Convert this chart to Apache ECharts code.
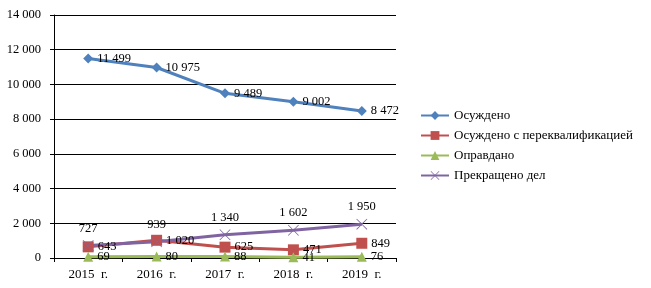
<!DOCTYPE html>
<html><head><meta charset="utf-8">
<script src="https://cdn.jsdelivr.net/npm/echarts@6/dist/echarts.min.js"></script>
<style>html,body{margin:0;padding:0;background:#fff}#c{width:651px;height:288px}</style>
</head><body><div id="c"></div>
<script>
var categories = ['2015  г.', '2016  г.', '2017  г.', '2018  г.', '2019  г.'];
var osuzhdeno = [11499, 10975, 9489, 9002, 8472];
var perekvalif = [643, 1020, 625, 471, 849];
var opravdano = [69, 80, 88, 41, 76];
var prekrascheno = [727, 939, 1340, 1602, 1950];
var seriesNames = ['Осуждено', 'Осуждено с переквалификацией', 'Оправдано', 'Прекращено дел'];

function fmt(v){ return String(v).replace(/\B(?=(\d{3})+(?!\d))/g, ' '); }
var font = 'Liberation Serif';
var crossPath = 'path://M0,1L1,0L10,9L19,0L20,1L11,10L20,19L19,20L10,11L1,20L0,19L9,10Z';

function mk(name, data, color, symbol, size, pos){
  return {
    name: name, type: 'line', data: data, symbol: symbol, symbolSize: size,
    lineStyle: {color: color, width: 3}, itemStyle: {color: color},
    label: {show: true, position: pos, distance: pos === 'top' ? 5 : 4, formatter: function(p){return fmt(p.value);},
      fontFamily: font, fontSize: 12.5, color: '#000'},
    animation: false
  };
}
var chart = echarts.init(document.getElementById('c'));
chart.setOption({
  animation: false,
  textStyle: {fontFamily: font},
  grid: {left: 54, right: 255, top: 15, bottom: 30},
  legend: {
    orient: 'vertical', left: 420, top: 109, padding: 0, itemGap: 7, itemWidth: 28, itemHeight: 11,
    textStyle: {fontFamily: font, fontSize: 13, color: '#000'},
    data: seriesNames.map(function(n){return {name: n};})
  },
  xAxis: {
    type: 'category', data: categories, boundaryGap: true,
    axisLine: {lineStyle: {color: '#000', width: 1}},
    axisTick: {show: true, length: 4, lineStyle: {color: '#000'}},
    axisLabel: {fontFamily: font, fontSize: 13, color: '#000', margin: 10}
  },
  yAxis: {
    type: 'value', min: 0, max: 14000, interval: 2000,
    axisLine: {show: true, lineStyle: {color: '#000'}},
    axisTick: {show: true, length: 4, lineStyle: {color: '#000'}},
    splitLine: {lineStyle: {color: '#000', width: 1}},
    axisLabel: {fontFamily: font, fontSize: 12.5, color: '#000', margin: 13, formatter: fmt}
  },
  series: [
    mk(seriesNames[0], osuzhdeno, '#4F81BD', 'diamond', 10, 'right'),
    mk(seriesNames[1], perekvalif, '#C0504D', 'rect', 11, 'right'),
    mk(seriesNames[2], opravdano, '#9BBB59', 'triangle', 10, 'right'),
    mk(seriesNames[3], prekrascheno, '#8064A2', crossPath, 11, 'top')
  ]
});
</script></body></html>
